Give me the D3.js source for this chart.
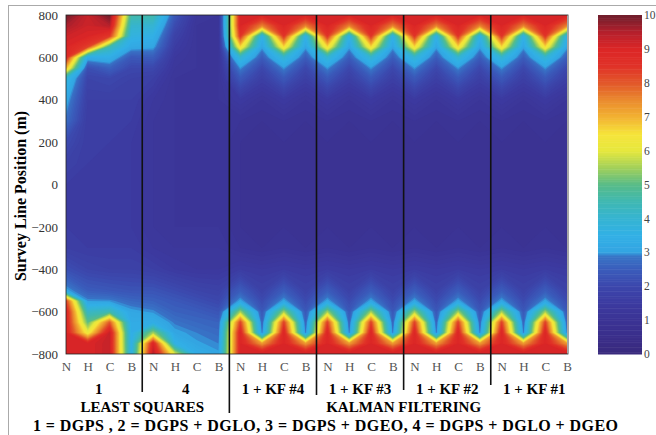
<!DOCTYPE html>
<html>
<head>
<meta charset="utf-8">
<script src="https://cdn.jsdelivr.net/npm/d3@7"></script>
<style>
  body { margin: 0; background: #fff; }
  text { font-family: "Liberation Serif", "Times New Roman", serif; }
</style>
</head>
<body>
<div id="chart"></div>
<script>
// Data
// ==========================================
// survey line positions (m) of the grid rows, top to bottom
var rowsM = [800, 750, 700, 650, 600, 550, 500, 400, 300, 200, 100, 0,
             -100, -200, -300, -400, -500, -550, -600, -650, -700, -750, -800];

var receivers = ["N", "H", "C", "B"];
var groupLabels = ["1", "4", "1 + KF #4", "1 + KF #3", "1 + KF #2", "1 + KF #1"];
var methodLabels = ["LEAST SQUARES", "KALMAN FILTERING"];
var legendText = "1 = DGPS , 2 = DGPS + DGLO, 3 = DGPS + DGEO, 4 = DGPS + DGLO + DGEO";
var yTicks = [800, 600, 400, 200, 0, -200, -400, -600, -800];
var cTicks = [0, 1, 2, 3, 4, 5, 6, 7, 8, 9, 10];

// each group: columns N, H, C, B ; values from 800 m down to -800 m
var ls1 = [
  [10, 9.6, 9.2, 9.0, 8.8, 7.0, 3.9, 3.2, 2.8, 2.1, 1.8, 1.6, 1.6, 1.6, 1.7, 2.2, 3.1, 8.3, 9.0, 9.0, 9.0, 9.0, 9.0],
  [9.3, 9.2, 9.0, 8.3, 3.3, 2.2, 1.9, 1.7, 1.6, 1.6, 1.6, 1.5, 1.5, 1.5, 1.6, 1.9, 2.5, 3.0, 4.2, 5.0, 6.2, 9.0, 9.0],
  [10, 9.5, 8.4, 4.5, 3.4, 2.6, 2.0, 1.7, 1.6, 1.6, 1.5, 1.5, 1.5, 1.5, 1.6, 1.8, 2.4, 2.97, 4.5, 8.0, 9.3, 9.3, 9.3],
  [4.6, 4.1, 3.7, 3.2, 2.4, 2.0, 1.8, 1.7, 1.6, 1.5, 1.5, 1.5, 1.5, 1.5, 1.6, 1.8, 2.3, 2.7, 3.1, 3.3, 3.4, 3.5, 3.6]
];
var ls4 = [
  [4.6, 4.0, 3.5, 3.1, 2.5, 2.0, 1.7, 1.4, 1.3, 1.3, 1.3, 1.3, 1.3, 1.3, 1.4, 1.7, 2.3, 2.6, 2.95, 3.4, 5.5, 9.0, 9.5],
  [2.4, 2.1, 1.8, 1.6, 1.4, 1.3, 1.2, 1.2, 1.2, 1.2, 1.2, 1.2, 1.2, 1.2, 1.3, 1.5, 2.1, 2.4, 2.6, 2.85, 3.1, 3.6, 6.0],
  [1.3, 1.2, 1.2, 1.2, 1.2, 1.2, 1.2, 1.2, 1.2, 1.2, 1.2, 1.2, 1.2, 1.2, 1.3, 1.4, 1.9, 2.2, 2.5, 2.7, 2.9, 3.05, 3.4],
  [1.2, 1.2, 1.2, 1.2, 1.2, 1.2, 1.2, 1.2, 1.2, 1.2, 1.2, 1.2, 1.2, 1.2, 1.3, 1.4, 1.8, 2.0, 2.3, 2.6, 2.75, 2.9, 3.05]
];
var kf4 = [
  [9.0, 9.0, 8.5, 6.6, 4.0, 3.0, 2.4, 1.5, 1.1, 1.0, 1.0, 1.0, 1.0, 1.0, 1.1, 1.6, 2.5, 3.1, 5.5, 8.3, 9.0, 9.0, 9.0],
  [9.0, 7.6, 3.6, 3.1, 2.5, 2.0, 1.7, 1.2, 1.0, 0.9, 0.9, 0.9, 0.9, 0.9, 1.0, 1.5, 1.8, 2.1, 2.4, 2.6, 2.85, 7.3, 9.3],
  [9.0, 9.0, 8.5, 6.6, 4.0, 3.0, 2.4, 1.5, 1.1, 1.0, 1.0, 1.0, 1.0, 1.0, 1.1, 1.6, 2.5, 3.1, 5.5, 8.3, 9.0, 9.0, 9.0],
  [9.0, 7.6, 3.6, 3.1, 2.5, 2.0, 1.7, 1.2, 1.0, 0.9, 0.9, 0.9, 0.9, 0.9, 1.0, 1.5, 1.8, 2.1, 2.4, 2.6, 2.85, 7.3, 9.3]
];
var kf3 = [
  [9.0, 9.0, 8.5, 6.6, 4.0, 3.0, 2.4, 1.5, 1.1, 1.0, 1.0, 1.0, 1.0, 1.0, 1.1, 1.6, 2.5, 3.1, 5.5, 8.3, 9.0, 9.0, 9.0],
  [9.0, 7.6, 3.6, 3.1, 2.5, 2.0, 1.7, 1.2, 1.0, 0.9, 0.9, 0.9, 0.9, 0.9, 1.0, 1.5, 1.8, 2.1, 2.4, 2.6, 2.85, 7.3, 9.3],
  [9.0, 9.0, 8.5, 6.6, 4.0, 3.0, 2.4, 1.5, 1.1, 1.0, 1.0, 1.0, 1.0, 1.0, 1.1, 1.6, 2.5, 3.1, 5.5, 8.3, 9.0, 9.0, 9.0],
  [9.0, 7.6, 3.6, 3.1, 2.5, 2.0, 1.7, 1.2, 1.0, 0.9, 0.9, 0.9, 0.9, 0.9, 1.0, 1.5, 1.8, 2.1, 2.4, 2.6, 2.85, 7.3, 9.3]
];
var kf2 = [
  [9.0, 9.0, 8.5, 6.6, 4.0, 3.0, 2.4, 1.5, 1.1, 1.0, 1.0, 1.0, 1.0, 1.0, 1.1, 1.6, 2.5, 3.1, 5.5, 8.3, 9.0, 9.0, 9.0],
  [9.0, 7.6, 3.6, 3.1, 2.5, 2.0, 1.7, 1.2, 1.0, 0.9, 0.9, 0.9, 0.9, 0.9, 1.0, 1.5, 1.8, 2.1, 2.4, 2.6, 2.85, 7.3, 9.3],
  [9.0, 9.0, 8.5, 6.6, 4.0, 3.0, 2.4, 1.5, 1.1, 1.0, 1.0, 1.0, 1.0, 1.0, 1.1, 1.6, 2.5, 3.1, 5.5, 8.3, 9.0, 9.0, 9.0],
  [9.0, 7.6, 3.6, 3.1, 2.5, 2.0, 1.7, 1.2, 1.0, 0.9, 0.9, 0.9, 0.9, 0.9, 1.0, 1.5, 1.8, 2.1, 2.4, 2.6, 2.85, 7.3, 9.3]
];
var kf1 = [
  [9.0, 9.0, 8.5, 6.6, 4.0, 3.0, 2.4, 1.5, 1.1, 1.0, 1.0, 1.0, 1.0, 1.0, 1.1, 1.6, 2.5, 3.1, 5.5, 8.3, 9.0, 9.0, 9.0],
  [9.0, 7.6, 3.6, 3.1, 2.5, 2.0, 1.7, 1.2, 1.0, 0.9, 0.9, 0.9, 0.9, 0.9, 1.0, 1.5, 1.8, 2.1, 2.4, 2.6, 2.85, 7.3, 9.3],
  [9.0, 9.0, 8.5, 6.6, 4.0, 3.0, 2.4, 1.5, 1.1, 1.0, 1.0, 1.0, 1.0, 1.0, 1.1, 1.6, 2.5, 3.1, 5.5, 8.3, 9.0, 9.0, 9.0],
  [9.0, 7.6, 3.6, 3.1, 2.5, 2.0, 1.7, 1.2, 1.0, 0.9, 0.9, 0.9, 0.9, 0.9, 1.0, 1.5, 1.8, 2.1, 2.4, 2.6, 2.85, 7.3, 9.3]
];

// colour map
var cmapVals = [0, 0.5, 1, 1.5, 2, 2.5, 2.9, 3.0, 3.5, 4, 4.5, 5, 5.5, 6, 6.5, 7, 7.5, 8, 8.5, 9, 9.5, 10];
var cmapCols = ["#392a7c", "#3a2e8a", "#3b3394", "#3c3aa0", "#3c47ac", "#3a5cbb", "#3874c6",
                "#33a4e2", "#32b0e6", "#35b4d2", "#3fb8b2", "#58bc88", "#a2d05a", "#e6e83e",
                "#f6e43a", "#f2b232", "#ea8a2e", "#e2582a", "#e03228", "#dc2626", "#b5202c", "#6e1e2c"];

// Set up the chart
// ==========================================
var svgWidth = 656, svgHeight = 435;
var plot = { left: 66, right: 567, top: 15, bottom: 354 };

var svg = d3.select("#chart").append("svg")
    .attr("width", svgWidth)
    .attr("height", svgHeight);

// outer scan frame
svg.append("rect")
    .attr("x", 8.5).attr("y", 5.5)
    .attr("width", 700).attr("height", 500)
    .attr("fill", "none").attr("stroke", "#aaa");

var columns = [].concat(ls1, ls4, kf4, kf3, kf2, kf1);
var nx = columns.length, ny = rowsM.length;

var x = d3.scaleLinear().domain([0, nx - 1]).range([plot.left, plot.right]);
var y = d3.scaleLinear().domain([-800, 800]).range([plot.bottom, plot.top]);
var rowScale = d3.scaleLinear().domain(d3.range(ny)).range(rowsM);
var color = d3.scaleLinear().domain(cmapVals).range(cmapCols).clamp(true);

// grid values, row-major for d3.contours
var values = [];
for (var j = 0; j < ny; j++) {
    for (var i = 0; i < nx; i++) values.push(columns[i][j]);
}

var levels = d3.range(0, 10.001, 0.1);
var contours = d3.contours().size([nx, ny]).thresholds(levels)(values);

// grid coords -> pixels (value i sits at i + 0.5 in contour space)
var proj = d3.geoTransform({
    point: function(px, py) {
        var ci = Math.max(0, Math.min(nx - 1, px - 0.5));
        var rj = Math.max(0, Math.min(ny - 1, py - 0.5));
        this.stream.point(x(ci), y(rowScale(rj)));
    }
});
var path = d3.geoPath(proj);

svg.append("g").selectAll("path")
    .data(contours)
    .enter().append("path")
    .attr("d", path)
    .attr("fill", d => color(d.value + 0.05));

// axes box
svg.append("rect")
    .attr("x", plot.left).attr("y", plot.top)
    .attr("width", plot.right + 1 - plot.left).attr("height", plot.bottom - plot.top)
    .attr("fill", "none").attr("stroke", "#222").attr("stroke-width", 0.8);

// group separators
var sepBottoms = [392, 413, 395, 390, 385];
svg.append("g").selectAll("line")
    .data(sepBottoms)
    .enter().append("line")
    .attr("x1", (d, k) => x(4 * (k + 1) - 0.5))
    .attr("x2", (d, k) => x(4 * (k + 1) - 0.5))
    .attr("y1", plot.top)
    .attr("y2", d => d)
    .attr("stroke", "#111")
    .attr("stroke-width", 1.6);

// Axes
// ==========================================
var bottomAxis = d3.axisBottom(x)
    .tickValues(d3.range(nx))
    .tickFormat(i => receivers[i % 4])
    .tickSize(0).tickPadding(8);
var gx = svg.append("g")
    .attr("transform", `translate(0, ${plot.bottom})`)
    .call(bottomAxis);
gx.select(".domain").remove();
gx.selectAll("text").style("font-size", "13px").attr("fill", "#555")
    .style("font-family", '"Liberation Serif", serif');

var leftAxis = d3.axisLeft(y).tickValues(yTicks).tickSize(0).tickPadding(8);
var gy = svg.append("g")
    .attr("transform", `translate(${plot.left}, 0)`)
    .call(leftAxis);
gy.select(".domain").remove();
gy.selectAll("text").style("font-size", "13px").attr("fill", "#333")
    .style("font-family", '"Liberation Serif", serif');

// group labels
svg.append("g").selectAll("text")
    .data(groupLabels)
    .enter().append("text")
    .attr("x", (d, k) => x(4 * k + 1.5))
    .attr("y", 394)
    .attr("text-anchor", "middle")
    .style("font-size", "15px").style("font-weight", "bold")
    .text(d => d);

svg.append("g").selectAll("text")
    .data(methodLabels)
    .enter().append("text")
    .attr("x", (d, k) => k === 0 ? x(3.5) : x(15.5))
    .attr("y", 412)
    .attr("text-anchor", "middle")
    .style("font-size", "15px").style("font-weight", "bold")
    .text(d => d);

svg.append("text")
    .attr("x", 33).attr("y", 431)
    .attr("textLength", 585)
    .attr("lengthAdjust", "spacing")
    .style("font-size", "16px").style("font-weight", "bold")
    .text(legendText);

// Text for y-axis
svg.append("text")
    .attr("transform", "translate(20, 196) rotate(-90)")
    .attr("dy", "0.35em")
    .attr("text-anchor", "middle")
    .style("font-size", "16px").style("font-weight", "bold")
    .text("Survey Line Position (m)");

// Colour bar
// ==========================================
var cb = { x: 598, w: 44 };
var cy = d3.scaleLinear().domain([0, 10]).range([plot.bottom, plot.top]);
var steps = d3.range(0, 10, 0.05);
svg.append("g").selectAll("rect")
    .data(steps)
    .enter().append("rect")
    .attr("x", cb.x)
    .attr("y", d => cy(d + 0.05))
    .attr("width", cb.w)
    .attr("height", d => cy(d) - cy(d + 0.05) + 0.5)
    .attr("fill", d => color(d + 0.025));

var rightAxis = d3.axisRight(cy).tickValues(cTicks).tickSize(0).tickPadding(2);
var gc = svg.append("g")
    .attr("transform", `translate(${cb.x + cb.w}, 0)`)
    .call(rightAxis);
gc.select(".domain").remove();
gc.selectAll("text").style("font-size", "11.5px").attr("fill", "#444")
    .style("font-family", '"Liberation Serif", serif');
</script>
</body>
</html>
